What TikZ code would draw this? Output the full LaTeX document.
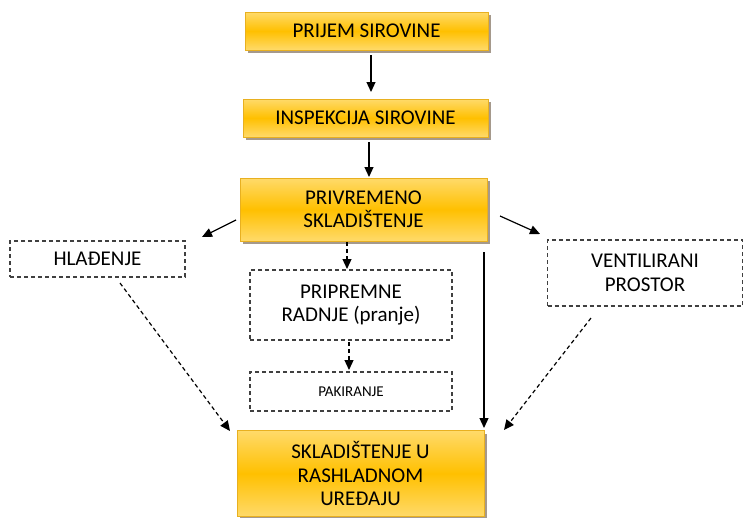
\documentclass[tikz,border=0pt]{standalone}
\usepackage{fontspec}
\setmainfont{Carlito}
\usetikzlibrary{arrows.meta,shadows}
\definecolor{goldtop}{HTML}{FFDA6A}
\definecolor{goldmid}{HTML}{FFC000}
\definecolor{goldedge}{HTML}{E8B020}
\definecolor{dashgray}{HTML}{404040}
\tikzset{
  goldbox/.style={draw=goldedge, line width=0.8pt, top color=goldtop, bottom color=goldtop, middle color=goldmid,
    drop shadow={shadow xshift=3pt, shadow yshift=-3pt, fill=black!60!brown, opacity=0.5},
    align=center, font=\fontsize{21}{23.5}\selectfont, inner sep=0pt},
  dashbox/.style={draw=dashgray, line width=1.1pt, dash pattern=on 4pt off 3pt, fill=white,
    align=center, font=\fontsize{21}{23.5}\selectfont, inner sep=0pt},
  arr/.style={line width=1.2pt, -{Triangle[length=10pt,width=9pt]}},
  darr/.style={arr, dash pattern=on 4pt off 3pt}
}
\begin{document}
\begin{tikzpicture}[x=1pt,y=-1pt]
\useasboundingbox (0,0) rectangle (744,517);
\node[goldbox, minimum width=243pt, minimum height=38pt] (prijem) at (366.5,31) {PRIJEM SIROVINE};
\node[goldbox, minimum width=245pt, minimum height=38pt] (insp) at (365.5,118) {INSPEKCIJA SIROVINE};
\node[goldbox, minimum width=247pt, minimum height=63pt] (priv) at (363.5,209.5) {PRIVREMENO\\SKLADIŠTENJE};
\node[dashbox, minimum width=175pt, minimum height=36pt] (hlad) at (97.5,259) {HLAĐENJE};
\node[dashbox, minimum width=202pt, minimum height=70pt] (prip) at (351,305) {PRIPREMNE\\RADNJE (pranje)};
\node[dashbox, minimum width=202pt, minimum height=39pt, font=\fontsize{15}{18}\selectfont] (pak) at (351,391.5) {PAKIRANJE};
\node[dashbox, minimum width=195pt, minimum height=66pt] (vent) at (645,273) {VENTILIRANI\\PROSTOR};
\node[goldbox, minimum width=247pt, minimum height=86pt] (skl) at (360.5,473.5) {SKLADIŠTENJE U\\RASHLADNOM\\UREĐAJU};
% connector end points
\coordinate (a1) at (371,55); \coordinate (a2) at (371,92);
\coordinate (b1) at (369,142); \coordinate (b2) at (369,177);
\coordinate (hl1) at (236,220); \coordinate (hl2) at (202,237);
\coordinate (ve1) at (500,216); \coordinate (ve2) at (540,234);
\coordinate (pr1) at (347,242); \coordinate (pr2) at (347,269);
\coordinate (pk1) at (349,342); \coordinate (pk2) at (349,370);
\coordinate (so1) at (484,252); \coordinate (so2) at (484,428);
\coordinate (hd1) at (120,283); \coordinate (hd2) at (230,431);
\coordinate (vd1) at (591,318); \coordinate (vd2) at (504,430);
\draw[arr] (a1) -- (a2);
\draw[arr] (b1) -- (b2);
\draw[arr] (hl1) -- (hl2);
\draw[arr] (ve1) -- (ve2);
\draw[darr] (pr1) -- (pr2);
\draw[darr] (pk1) -- (pk2);
\draw[arr] (so1) -- (so2);
\draw[darr] (hd1) -- (hd2);
\draw[darr] (vd1) -- (vd2);
\end{tikzpicture}
\end{document}
